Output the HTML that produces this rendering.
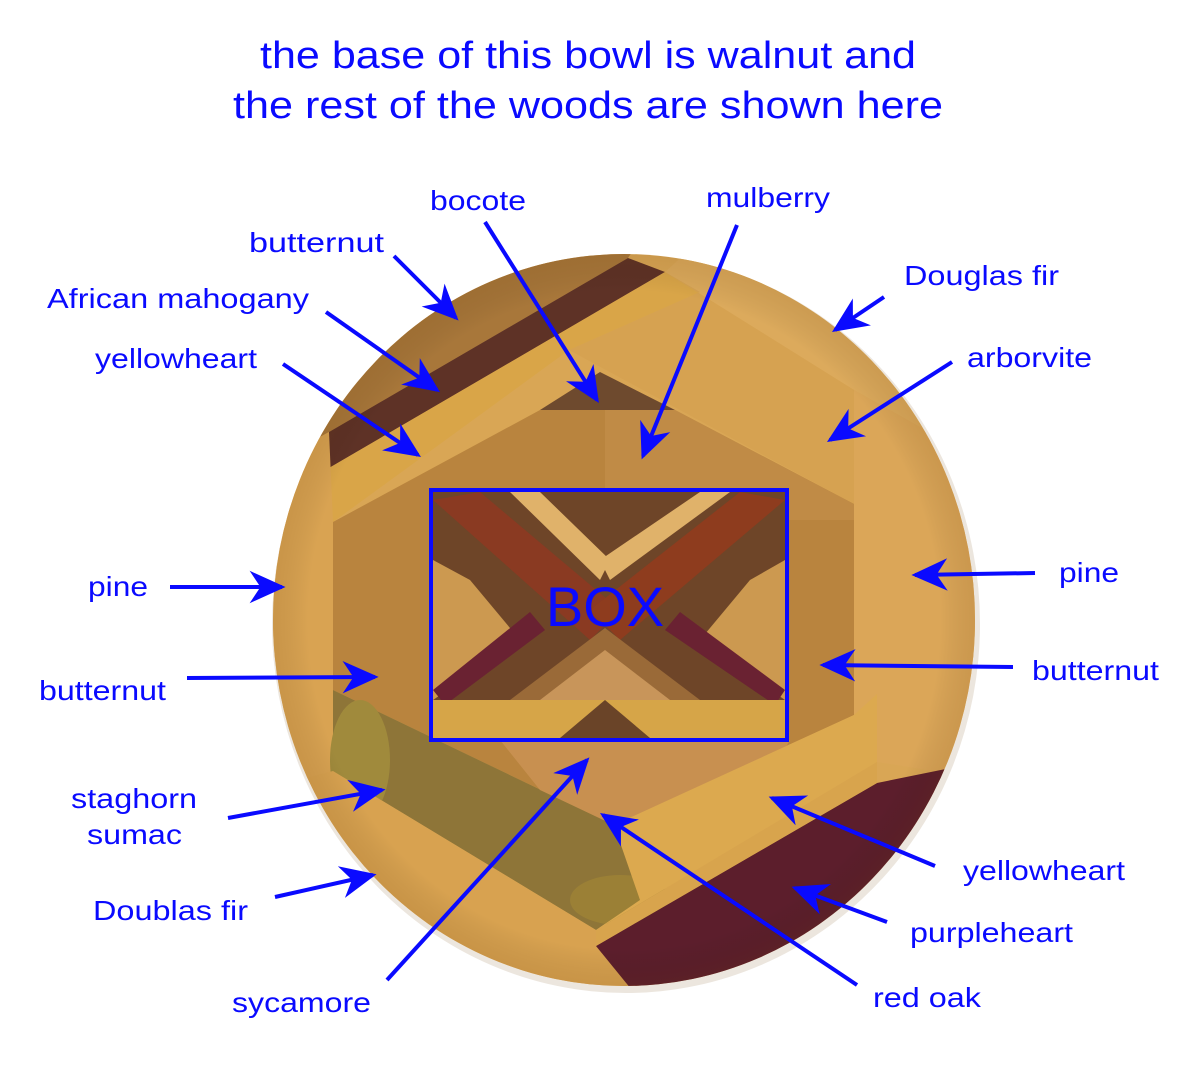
<!DOCTYPE html>
<html><head><meta charset="utf-8"><style>
html,body{margin:0;padding:0;background:#fff}
svg{display:block}
text{font-family:"Liberation Sans",Arial,sans-serif;fill:#0a0aff}
</style></head><body>
<svg width="1200" height="1074" viewBox="0 0 1200 1074" xmlns="http://www.w3.org/2000/svg">
<defs>
<clipPath id="bowl"><ellipse cx="624" cy="620" rx="351" ry="366"/></clipPath>
<clipPath id="box"><rect x="433" y="492" width="352" height="246"/></clipPath>
<radialGradient id="rim" cx="50%" cy="50%" r="50%">
<stop offset="0.9" stop-color="#000" stop-opacity="0"/>
<stop offset="1" stop-color="#5a3000" stop-opacity="0.12"/>
</radialGradient>
<marker id="ah" viewBox="0 0 10 10" refX="9" refY="5" markerWidth="9" markerHeight="9" markerUnits="strokeWidth" orient="auto">
<path d="M0,0.5 L10,5 L0,9.5 L3,5 z" fill="#0a0aff"/>
</marker>
</defs>
<ellipse cx="626" cy="624" rx="354" ry="369" fill="#ece6de"/>
<g clip-path="url(#bowl)">
<rect x="260" y="240" width="730" height="760" fill="#d9a655"/>
<polygon points="260,240 640,240 628,258 329,432 260,470" fill="#a8773a"/>
<polygon points="329,432 628,258 665,272 329,468" fill="#5e3226"/>
<polygon points="329,468 665,272 700,292 569,350 333,522" fill="#d9a548"/>
<polygon points="665,272 700,240 990,240 990,440 927,431 854,390" fill="#dcaa5c"/>
<polygon points="569,350 700,292 665,272 854,390 854,504" fill="#d6a251"/>
<polygon points="540,410 600,372 675,410" fill="#6e4a2e"/>
<polygon points="333,522 540,410 675,410 854,504 854,715 614,825 333,690" fill="#b9843e"/>
<polygon points="605,410 675,410 854,504 854,520 605,520" fill="#c08b46"/>
<polygon points="854,390 927,431 990,440 990,780 877,762 854,715" fill="#dba658"/>
<polygon points="260,470 329,432 333,522 333,771 260,790" fill="#d9a352"/>
<polygon points="333,690 614,825 670,850 640,900 596,930 333,771" fill="#8e7538"/>
<ellipse cx="360" cy="760" rx="30" ry="60" fill="#a08a3c"/>
<ellipse cx="620" cy="900" rx="50" ry="25" fill="#9b8036"/>
<polygon points="260,790 333,771 596,930 650,1000 260,1000" fill="#d8a250"/>
<polygon points="500,740 790,740 760,790 614,825 540,790" fill="#c89050"/>
<polygon points="614,825 854,715 877,694 877,762 596,930 640,900" fill="#dca94f"/>
<polygon points="596,946 877,783 990,760 990,1000 640,1000" fill="#5c1e2c"/>
<polygon points="596,930 877,762 877,783 596,946" fill="#d8a44d"/>
<ellipse cx="624" cy="620" rx="351" ry="366" fill="url(#rim)"/>
</g>
<g clip-path="url(#box)">
<rect x="433" y="492" width="352" height="246" fill="#6e4528"/>
<polygon points="433,500 480,492 620,610 590,640" fill="#8a3a22"/>
<polygon points="785,500 740,492 590,610 620,640" fill="#8e3c1e"/>
<polygon points="510,492 540,492 610,560 600,580" fill="#e0b26a"/>
<polygon points="700,492 730,492 610,580 600,560" fill="#e0b26a"/>
<polygon points="433,560 433,700 520,640 470,580" fill="#cc9950"/>
<polygon points="785,560 785,700 700,640 750,580" fill="#cc9950"/>
<polygon points="433,690 530,612 545,630 445,705" fill="#6a2232"/>
<polygon points="785,690 680,612 665,630 775,705" fill="#6a2232"/>
<polygon points="605,628 700,700 510,700" fill="#9a6a38"/>
<polygon points="605,650 670,700 540,700" fill="#c8955a"/>
<rect x="433" y="700" width="352" height="38" fill="#d6a548"/>
<polygon points="560,738 605,700 650,738" fill="#6a4428"/>
</g>
<rect x="431" y="490" width="356" height="250" fill="none" stroke="#0a0aff" stroke-width="4"/>
<text x="605" y="626" font-size="56" text-anchor="middle">BOX</text>

<text x="588" y="68" font-size="38" text-anchor="middle" textLength="656" lengthAdjust="spacingAndGlyphs">the base of this bowl is walnut and</text>
<text x="588" y="118" font-size="38" text-anchor="middle" textLength="710" lengthAdjust="spacingAndGlyphs">the rest of the woods are shown here</text>

<g font-size="28">
<text x="430" y="210" textLength="96" lengthAdjust="spacingAndGlyphs">bocote</text>
<text x="706" y="207" textLength="124" lengthAdjust="spacingAndGlyphs">mulberry</text>
<text x="249" y="252" textLength="135" lengthAdjust="spacingAndGlyphs">butternut</text>
<text x="904" y="285" textLength="155" lengthAdjust="spacingAndGlyphs">Douglas fir</text>
<text x="47" y="308" textLength="262" lengthAdjust="spacingAndGlyphs">African mahogany</text>
<text x="967" y="367" textLength="125" lengthAdjust="spacingAndGlyphs">arborvite</text>
<text x="95" y="368" textLength="162" lengthAdjust="spacingAndGlyphs">yellowheart</text>
<text x="88" y="596" textLength="60" lengthAdjust="spacingAndGlyphs">pine</text>
<text x="1059" y="582" textLength="60" lengthAdjust="spacingAndGlyphs">pine</text>
<text x="39" y="700" textLength="127" lengthAdjust="spacingAndGlyphs">butternut</text>
<text x="1032" y="680" textLength="127" lengthAdjust="spacingAndGlyphs">butternut</text>
<text x="71" y="808" textLength="126" lengthAdjust="spacingAndGlyphs">staghorn</text>
<text x="87" y="844" textLength="95" lengthAdjust="spacingAndGlyphs">sumac</text>
<text x="963" y="880" textLength="162" lengthAdjust="spacingAndGlyphs">yellowheart</text>
<text x="93" y="920" textLength="155" lengthAdjust="spacingAndGlyphs">Doublas fir</text>
<text x="910" y="942" textLength="163" lengthAdjust="spacingAndGlyphs">purpleheart</text>
<text x="873" y="1007" textLength="108" lengthAdjust="spacingAndGlyphs">red oak</text>
<text x="232" y="1012" textLength="139" lengthAdjust="spacingAndGlyphs">sycamore</text>
</g>

<g stroke="#0a0aff" stroke-width="4" fill="none" marker-end="url(#ah)">
<line x1="485" y1="222" x2="597" y2="400"/>
<line x1="737" y1="225" x2="643" y2="456"/>
<line x1="394" y1="256" x2="456" y2="318"/>
<line x1="884" y1="297" x2="835" y2="330"/>
<line x1="326" y1="312" x2="437" y2="390"/>
<line x1="952" y1="362" x2="830" y2="440"/>
<line x1="283" y1="364" x2="418" y2="455"/>
<line x1="170" y1="587" x2="282" y2="587"/>
<line x1="1035" y1="573" x2="915" y2="575"/>
<line x1="187" y1="678" x2="375" y2="677"/>
<line x1="1013" y1="667" x2="823" y2="665"/>
<line x1="228" y1="818" x2="382" y2="790"/>
<line x1="275" y1="897" x2="373" y2="875"/>
<line x1="387" y1="980" x2="587" y2="760"/>
<line x1="857" y1="985" x2="603" y2="815"/>
<line x1="887" y1="922" x2="795" y2="888"/>
<line x1="935" y1="866" x2="772" y2="798"/>
</g>
</svg>
</body></html>
